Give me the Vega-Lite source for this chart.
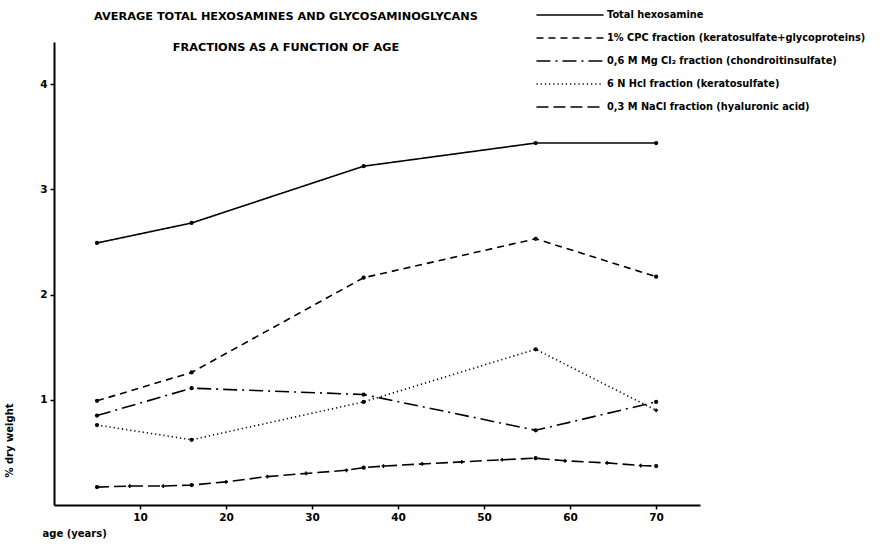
{
  "$schema": "https://vega.github.io/schema/vega-lite/v6.json",
  "autosize": {"type": "none"},
  "width": 646,
  "height": 463,
  "padding": {"left": 54, "top": 42, "right": 182, "bottom": 42},
  "background": "white",
  "config": {
    "font": "DejaVu Sans",
    "view": {"stroke": null},
    "axis": {"grid": false, "domainColor": "black", "domainWidth": 2, "tickColor": "black", "tickWidth": 1.5, "tickSize": 4, "labelFont": "DejaVu Sans", "labelFontWeight": "bold", "labelFontSize": 10.5, "labelColor": "black", "titleFont": "DejaVu Sans", "titleFontWeight": "bold", "titleFontSize": 10, "titleColor": "black"}
  },
  "title": {
    "text": ["AVERAGE  TOTAL  HEXOSAMINES AND  GLYCOSAMINOGLYCANS", "FRACTIONS  AS  A  FUNCTION  OF  AGE"],
    "font": "DejaVu Sans",
    "fontSize": 11.3,
    "fontWeight": "bold",
    "color": "black",
    "anchor": "middle",
    "frame": "group",
    "dx": -91,
    "offset": 0,
    "lineHeight": 31,
    "baseline": "top",
    "dy": 46
  },
  "data": {"values": [
    {"series": "Total hexosamine", "age": 5, "value": 2.49, "marker": "dot"},
    {"series": "Total hexosamine", "age": 16, "value": 2.68, "marker": "dot"},
    {"series": "Total hexosamine", "age": 36, "value": 3.22, "marker": "dot"},
    {"series": "Total hexosamine", "age": 56, "value": 3.44, "marker": "dot"},
    {"series": "Total hexosamine", "age": 70, "value": 3.44, "marker": "dot"},
    {"series": "1% CPC fraction (keratosulfate+glycoproteins)", "age": 5, "value": 0.99, "marker": "dot"},
    {"series": "1% CPC fraction (keratosulfate+glycoproteins)", "age": 16, "value": 1.26, "marker": "dot"},
    {"series": "1% CPC fraction (keratosulfate+glycoproteins)", "age": 36, "value": 2.16, "marker": "dot"},
    {"series": "1% CPC fraction (keratosulfate+glycoproteins)", "age": 56, "value": 2.53, "marker": "dot"},
    {"series": "1% CPC fraction (keratosulfate+glycoproteins)", "age": 70, "value": 2.17, "marker": "dot"},
    {"series": "0,6 M  Mg  Cl₂ fraction (chondroitinsulfate)", "age": 5, "value": 0.85, "marker": "dot"},
    {"series": "0,6 M  Mg  Cl₂ fraction (chondroitinsulfate)", "age": 16, "value": 1.11, "marker": "dot"},
    {"series": "0,6 M  Mg  Cl₂ fraction (chondroitinsulfate)", "age": 36, "value": 1.05, "marker": "dot"},
    {"series": "0,6 M  Mg  Cl₂ fraction (chondroitinsulfate)", "age": 56, "value": 0.71, "marker": "dot"},
    {"series": "0,6 M  Mg  Cl₂ fraction (chondroitinsulfate)", "age": 70, "value": 0.98, "marker": "dot"},
    {"series": "6 N  Hcl  fraction (keratosulfate)", "age": 5, "value": 0.76, "marker": "dot"},
    {"series": "6 N  Hcl  fraction (keratosulfate)", "age": 16, "value": 0.62, "marker": "dot"},
    {"series": "6 N  Hcl  fraction (keratosulfate)", "age": 36, "value": 0.98, "marker": "dot"},
    {"series": "6 N  Hcl  fraction (keratosulfate)", "age": 56, "value": 1.48, "marker": "dot"},
    {"series": "6 N  Hcl  fraction (keratosulfate)", "age": 70, "value": 0.9, "marker": "plus"},
    {"series": "0,3 M  NaCl fraction (hyaluronic acid)", "age": 5, "value": 0.17, "marker": "dot"},
    {"series": "0,3 M  NaCl fraction (hyaluronic acid)", "age": 8.8, "value": 0.18, "marker": "plus"},
    {"series": "0,3 M  NaCl fraction (hyaluronic acid)", "age": 12.7, "value": 0.18, "marker": "plus"},
    {"series": "0,3 M  NaCl fraction (hyaluronic acid)", "age": 16, "value": 0.19, "marker": "dot"},
    {"series": "0,3 M  NaCl fraction (hyaluronic acid)", "age": 20, "value": 0.22, "marker": "plus"},
    {"series": "0,3 M  NaCl fraction (hyaluronic acid)", "age": 24.8, "value": 0.27, "marker": "plus"},
    {"series": "0,3 M  NaCl fraction (hyaluronic acid)", "age": 29.3, "value": 0.3, "marker": "plus"},
    {"series": "0,3 M  NaCl fraction (hyaluronic acid)", "age": 34, "value": 0.33, "marker": "plus"},
    {"series": "0,3 M  NaCl fraction (hyaluronic acid)", "age": 36, "value": 0.355, "marker": "dot"},
    {"series": "0,3 M  NaCl fraction (hyaluronic acid)", "age": 38.3, "value": 0.37, "marker": "plus"},
    {"series": "0,3 M  NaCl fraction (hyaluronic acid)", "age": 42.8, "value": 0.39, "marker": "plus"},
    {"series": "0,3 M  NaCl fraction (hyaluronic acid)", "age": 47.4, "value": 0.41, "marker": "plus"},
    {"series": "0,3 M  NaCl fraction (hyaluronic acid)", "age": 52.1, "value": 0.43, "marker": "plus"},
    {"series": "0,3 M  NaCl fraction (hyaluronic acid)", "age": 56, "value": 0.445, "marker": "dot"},
    {"series": "0,3 M  NaCl fraction (hyaluronic acid)", "age": 59.4, "value": 0.42, "marker": "plus"},
    {"series": "0,3 M  NaCl fraction (hyaluronic acid)", "age": 64.3, "value": 0.4, "marker": "plus"},
    {"series": "0,3 M  NaCl fraction (hyaluronic acid)", "age": 68.2, "value": 0.375, "marker": "plus"},
    {"series": "0,3 M  NaCl fraction (hyaluronic acid)", "age": 70, "value": 0.37, "marker": "dot"}
  ]},
  "encoding": {
    "x": {"field": "age", "type": "quantitative", "scale": {"domain": [0, 75.1], "nice": false, "zero": false},
      "axis": {"values": [10, 20, 30, 40, 50, 60, 70], "title": "age (years)", "titleAnchor": "start", "titleAlign": "left", "titleX": -12, "titleY": 23, "labelPadding": 3}},
    "y": {"field": "value", "type": "quantitative", "scale": {"domain": [0, 4.4], "nice": false},
      "axis": {"values": [1, 2, 3, 4], "title": "% dry weight", "titleX": -40, "titleY": 398, "titleAngle": 270, "labelPadding": 3}}
  },
  "layer": [
    {
      "mark": {"type": "line", "color": "black", "strokeWidth": 1.6},
      "encoding": {
        "detail": {"field": "series"},
        "strokeDash": {"field": "series", "type": "nominal",
          "scale": {
            "domain": ["Total hexosamine", "1% CPC fraction (keratosulfate+glycoproteins)", "0,6 M  Mg  Cl₂ fraction (chondroitinsulfate)", "6 N  Hcl  fraction (keratosulfate)", "0,3 M  NaCl fraction (hyaluronic acid)"],
            "range": [[1, 0], [7, 5], [14, 5, 2, 5], [1.2, 3], [12, 5]]
          },
          "legend": {
            "title": null, "orient": "none", "legendX": 508, "legendY": -35,
            "symbolType": "M-5,0H5", "symbolSize": 180, "symbolStrokeColor": "black", "symbolStrokeWidth": 1.6, "symbolFillColor": "transparent",
            "labelFont": "DejaVu Sans", "labelFontWeight": "bold", "labelFontSize": 9.8, "labelColor": "black",
            "labelOffset": 29, "rowPadding": 10, "labelLimit": 400
          }
        }
      }
    },
    {
      "transform": [{"filter": "datum.marker == 'dot'"}],
      "mark": {"type": "point", "filled": true, "color": "black", "size": 18, "opacity": 1}
    },
    {
      "transform": [{"filter": "datum.marker == 'plus'"}],
      "mark": {"type": "point", "shape": "cross", "filled": true, "color": "black", "size": 14, "opacity": 1}
    }
  ]
}
